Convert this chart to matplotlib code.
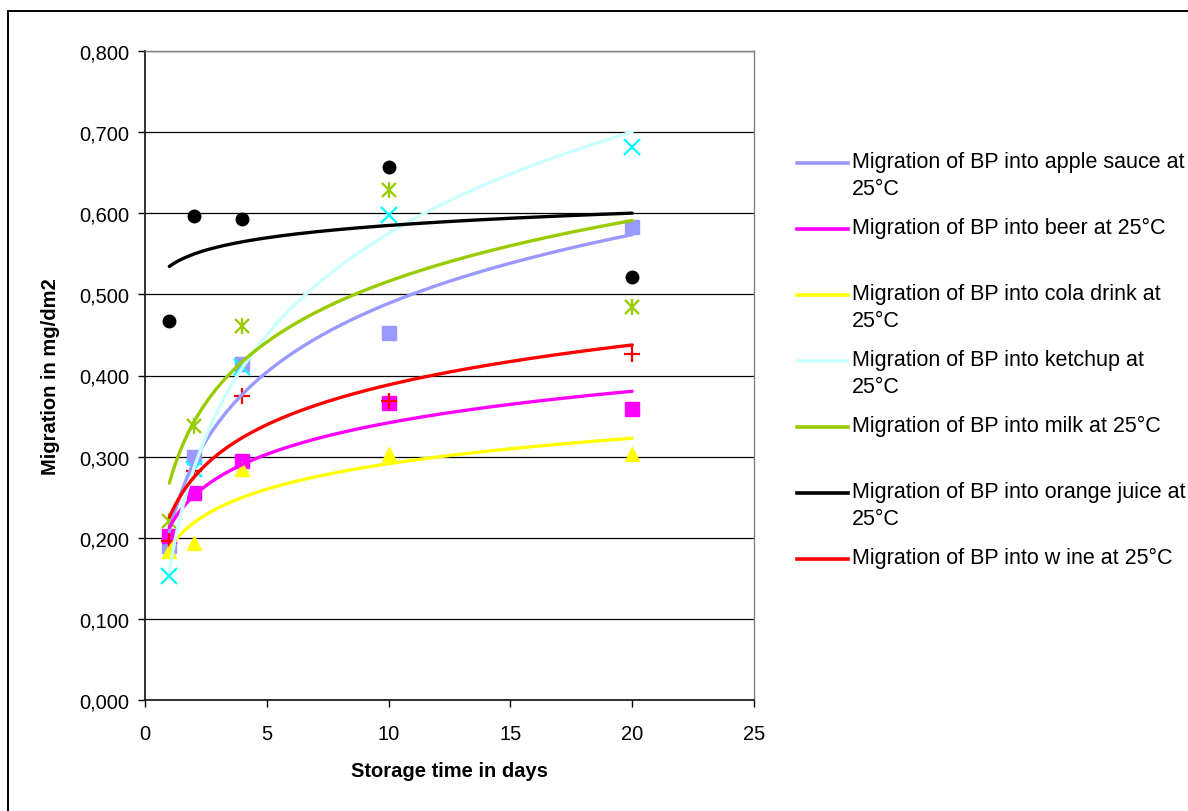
import numpy as np
import matplotlib
matplotlib.use("Agg")
import matplotlib.pyplot as plt
from matplotlib.lines import Line2D
from matplotlib.ticker import FuncFormatter, MultipleLocator

plt.rcParams['font.family'] = ['Liberation Sans', 'DejaVu Sans']

# Storage times (days) and measured migration (mg/dm2)
days = [1, 2, 4, 10, 20]
apple_sauce = [0.190, 0.300, 0.414, 0.452, 0.583]
beer = [0.202, 0.255, 0.295, 0.366, 0.359]
cola = [0.184, 0.194, 0.285, 0.303, 0.303]
ketchup = [0.153, 0.285, 0.411, 0.598, 0.682]
milk = [0.221, 0.338, 0.461, 0.629, 0.485]
orange_juice = [0.467, 0.596, 0.593, 0.657, 0.521]
wine = [0.196, 0.282, 0.375, 0.369, 0.427]

labels = [
    "Migration of BP into apple sauce at\n25°C",
    "Migration of BP into beer at 25°C",
    "Migration of BP into cola drink at\n25°C",
    "Migration of BP into ketchup at\n25°C",
    "Migration of BP into milk at 25°C",
    "Migration of BP into orange juice at\n25°C",
    "Migration of BP into w ine at 25°C",
]

series = [
    # values, line colour, marker colour, marker
    (apple_sauce, '#9999FF', '#9999FF', 's'),
    (beer, '#FF00FF', '#FF00FF', 's'),
    (cola, '#FFFF00', '#FFFF00', '^'),
    (ketchup, '#CCFFFF', '#00FFFF', 'x'),
    (milk, '#99CC00', '#99CC00', '*'),
    (orange_juice, '#000000', '#000000', 'o'),
    (wine, '#FF0000', '#FF0000', '+'),
]

W, H = 1188, 812
fig = plt.figure(figsize=(W / 100, H / 100), dpi=100)
ax = fig.add_axes([145 / W, 1 - 701 / H, (754 - 145) / W, (701 - 52) / H])

x = np.array(days, dtype=float)
xs = np.linspace(1, 20, 300)

for vals, lc, mc, mk in series:
    y = np.array(vals)
    if mk == '*':
        ax.plot(x, y, ls='none', marker='x', ms=10, mew=1.7, color=mc, zorder=3)
        ax.plot(x, y, ls='none', marker='|', ms=12, mew=1.7, color=mc, zorder=3)
    elif mk in ('x', '+'):
        ax.plot(x, y, ls='none', marker=mk, ms=11, mew=1.6, color=mc, zorder=3)
    elif mk == 'o':
        ax.plot(x, y, ls='none', marker=mk, ms=9, color=mc, zorder=3)
    elif mk == '^':
        ax.plot(x, y, ls='none', marker=mk, ms=10, color=mc, zorder=3)
    else:
        ax.plot(x, y, ls='none', marker=mk, ms=9.5, color=mc, zorder=3)
    # logarithmic trend line
    b, a = np.polyfit(np.log(x), y, 1)
    ax.plot(xs, a + b * np.log(xs), color=lc, lw=2.4, zorder=4,
            solid_capstyle='round')

ax.set_xlim(0, 25)
ax.set_ylim(0, 0.8)
ax.xaxis.set_major_locator(MultipleLocator(5))
ax.yaxis.set_major_locator(MultipleLocator(0.1))
ax.yaxis.set_major_formatter(FuncFormatter(lambda v, p: f"{v:.3f}".replace('.', ',')))
ax.grid(axis='y', color='black', lw=0.9, zorder=1)
ax.set_axisbelow(True)
for side in ('top', 'right'):
    ax.spines[side].set_color('#808080')
    ax.spines[side].set_linewidth(1.0)
for side in ('left', 'bottom'):
    ax.spines[side].set_color('#202020')
    ax.spines[side].set_linewidth(1.3)
ax.tick_params(axis='both', direction='out', length=5, width=1, labelsize=14.5,
               colors='black')
ax.tick_params(axis='y', pad=6)
ax.tick_params(axis='x', pad=12)
ax.set_xlabel("Storage time in days", fontsize=14.5, fontweight='bold', labelpad=13)
ax.set_ylabel("Migration in mg/dm2", fontsize=14.5, fontweight='bold', labelpad=14)

# Legend: trend lines only, line aligned with the first text line
for i, ((vals, lc, mc, mk), lab) in enumerate(zip(series, labels)):
    yl = 164 + 66 * i
    fig.add_artist(Line2D([797 / W, 848 / W], [1 - yl / H, 1 - yl / H],
                          color=lc, lw=2.6, transform=fig.transFigure))
    fig.text(852 / W, 1 - (yl - 12) / H, lab, fontsize=15.5, va='top', ha='left',
             linespacing=1.4)

# Outer chart frame (left and top edges visible)
fig.add_artist(Line2D([8 / W, 8 / W], [0, 1 - 12 / H], color='black', lw=1.4,
                      transform=fig.transFigure))
fig.add_artist(Line2D([8 / W, 1], [1 - 12 / H, 1 - 12 / H], color='black', lw=1.4,
                      transform=fig.transFigure))

fig.savefig("out.png", dpi=100)
